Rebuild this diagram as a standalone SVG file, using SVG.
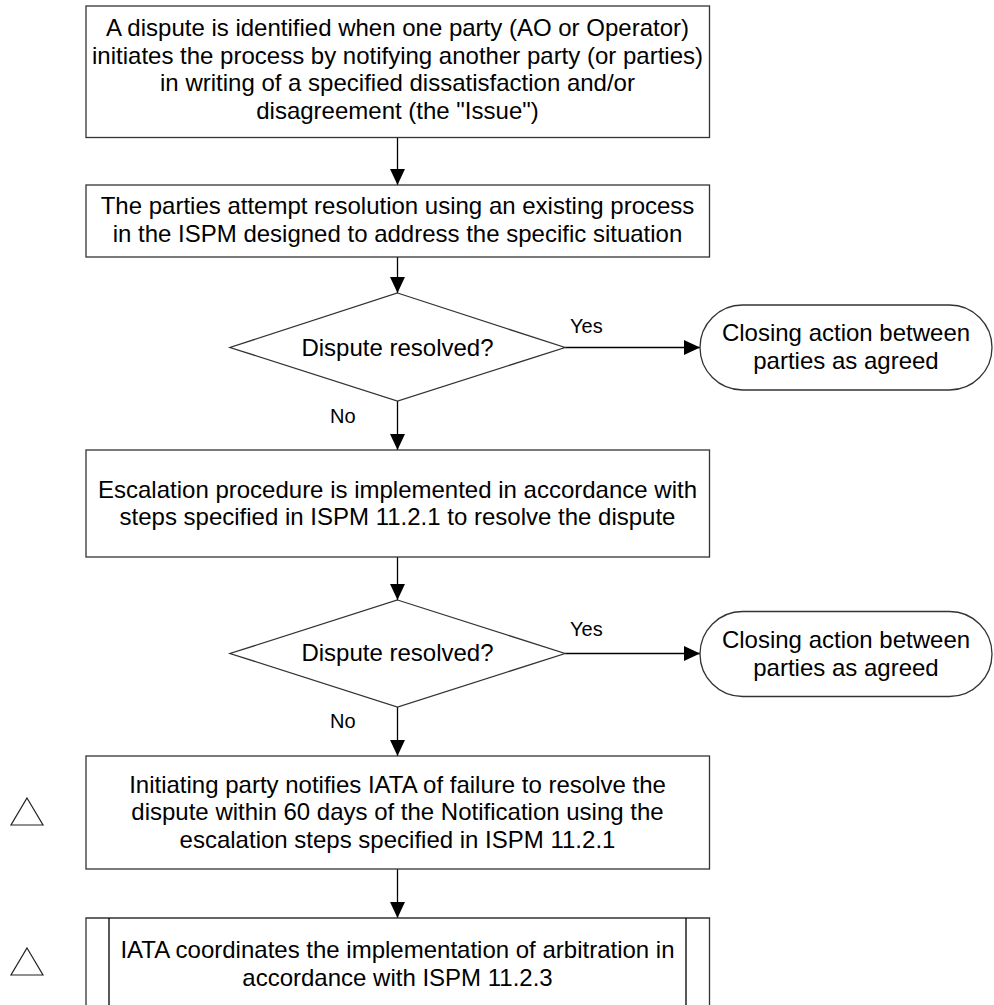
<svg xmlns="http://www.w3.org/2000/svg" width="994" height="1005" viewBox="0 0 994 1005">
<style>
.box{fill:#fff;stroke:#333;stroke-width:1.3}
.ln{fill:none;stroke:#000;stroke-width:1.3}
.t{font-family:"Liberation Sans",Arial,sans-serif;font-size:24px;fill:#000;text-anchor:middle}
.lbl{font-family:"Liberation Sans",Arial,sans-serif;font-size:20px;fill:#000}
.tri{fill:#fff;stroke:#222;stroke-width:1.2}
</style>
<defs>
<marker id="ah" markerUnits="userSpaceOnUse" markerWidth="16" markerHeight="16" viewBox="0 0 15 14" refX="15" refY="7" orient="auto">
<path d="M0,0 L15,7 L0,14 z" fill="#000"/>
</marker>
</defs>
<rect width="994" height="1005" fill="#fff"/>

<g id="connectors">
<path class="ln" marker-end="url(#ah)" d="M397.5,137.5 V185"/>
<path class="ln" marker-end="url(#ah)" d="M397.5,257 V293"/>
<path class="ln" marker-end="url(#ah)" d="M565,347.5 H700"/>
<path class="ln" marker-end="url(#ah)" d="M397.5,401 V450"/>
<path class="ln" marker-end="url(#ah)" d="M397.5,557 V600"/>
<path class="ln" marker-end="url(#ah)" d="M565,653.5 H700"/>
<path class="ln" marker-end="url(#ah)" d="M397.5,707 V756"/>
<path class="ln" marker-end="url(#ah)" d="M397.5,869 V918"/>
<text class="lbl" x="570" y="333">Yes</text>
<text class="lbl" x="330" y="422.5">No</text>
<text class="lbl" x="570" y="636">Yes</text>
<text class="lbl" x="330" y="728">No</text>
</g>

<g id="n1">
<rect class="box" x="86" y="6" width="623.5" height="131.5"/>
<text class="t" x="397.5" y="36">A dispute is identified when one party (AO or Operator)</text>
<text class="t" x="397.5" y="63.5">initiates the process by notifying another party (or parties)</text>
<text class="t" x="397.5" y="91">in writing of a specified dissatisfaction and/or</text>
<text class="t" x="397.5" y="118.5">disagreement (the "Issue")</text>
</g>

<g id="n2">
<rect class="box" x="86" y="185" width="623.5" height="72"/>
<text class="t" x="397.5" y="214">The parties attempt resolution using an existing process</text>
<text class="t" x="397.5" y="241.5">in the ISPM designed to address the specific situation</text>
</g>

<g id="d1">
<polygon class="box" points="397.5,293 565,347.5 397.5,401 230,347.5"/>
<text class="t" x="397.5" y="355.5">Dispute resolved?</text>
</g>

<g id="e1">
<rect class="box" x="700" y="305" width="292" height="85" rx="42.5" ry="42.5"/>
<text class="t" x="846" y="341">Closing action between</text>
<text class="t" x="846" y="368.5">parties as agreed</text>
</g>

<g id="n3">
<rect class="box" x="86" y="450" width="623.5" height="107"/>
<text class="t" x="397.5" y="497.5">Escalation procedure is implemented in accordance with</text>
<text class="t" x="397.5" y="525">steps specified in ISPM 11.2.1 to resolve the dispute</text>
</g>

<g id="d2">
<polygon class="box" points="397.5,600 565,653.5 397.5,707 230,653.5"/>
<text class="t" x="397.5" y="661">Dispute resolved?</text>
</g>

<g id="e2">
<rect class="box" x="700" y="611.5" width="292" height="85" rx="42.5" ry="42.5"/>
<text class="t" x="846" y="647.5">Closing action between</text>
<text class="t" x="846" y="675.5">parties as agreed</text>
</g>

<g id="n4">
<rect class="box" x="86" y="756" width="623.5" height="113"/>
<text class="t" x="397.5" y="792.5">Initiating party notifies IATA of failure to resolve the</text>
<text class="t" x="397.5" y="820">dispute within 60 days of the Notification using the</text>
<text class="t" x="397.5" y="847.5">escalation steps specified in ISPM 11.2.1</text>
</g>

<g id="n5">
<path class="box" d="M86,1010 V918 H709.5 V1010"/>
<path class="ln" d="M109,918 V1010 M686,918 V1010" stroke="#333"/>
<text class="t" x="397.5" y="958">IATA coordinates the implementation of arbitration in</text>
<text class="t" x="397.5" y="985.5">accordance with ISPM 11.2.3</text>
</g>

<g id="m1">
<polygon class="tri" points="27,798 43,825 11,825"/>
</g>
<g id="m2">
<polygon class="tri" points="27,948 43,975 11,975"/>
</g>
</svg>
